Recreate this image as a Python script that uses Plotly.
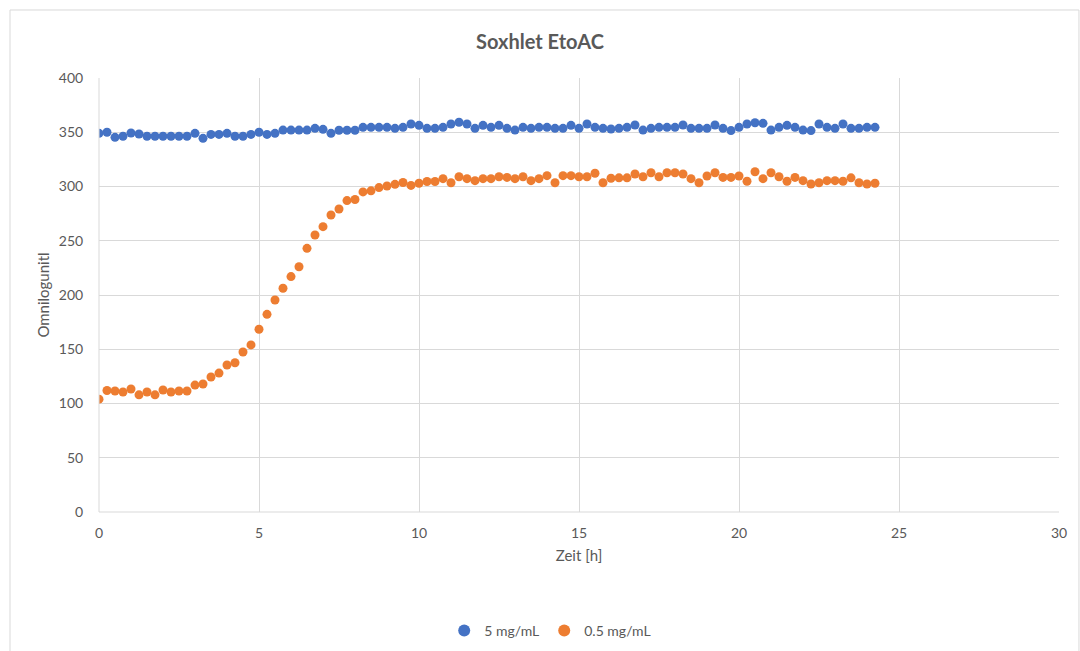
import plotly.graph_objects as go

time_h = [i * 0.25 for i in range(98)]

series_5 = [349, 350, 345.3, 346.3, 349.3, 348.4, 346.3, 346.3, 346.3, 346.3, 346.3, 346.3,
            349, 344.4, 348, 348, 349, 346.3, 346.3, 348, 350, 348, 349, 352, 352, 352, 352,
            353.6, 352.7, 349, 351.8, 351.8, 351.8,
            354.5, 354.5, 354.5, 354.5, 353.6, 354.5, 357.6, 356.4, 353.6, 353.6, 354.5, 357.6,
            359.2, 357.6, 353.6, 356.4, 354.5, 356.4, 353.6, 352, 354.5, 353.6, 354.5, 354.5,
            353.6, 353.6, 356.4, 353.6, 357.6, 354.5, 353.6, 353,
            353.6, 354.5, 356.7, 352, 353.6, 354.5, 354.5, 354.5, 356.7, 353.6, 353.6, 353.6,
            356.7, 353.6, 351.5, 354.5, 357.6, 358.8, 358.2, 352, 354.5, 356.4, 354.5, 352,
            351.5, 357.6, 354.5, 353.6, 357.6, 353.6, 353.6, 354.5, 354.5]

series_05 = [104, 112, 111.5, 110.6, 113.4, 108, 110.6, 108, 112.4, 110.6, 111.5, 111.5,
             117, 118, 124.4, 128, 135.5, 137.6, 147.5, 154, 168.4, 182.2, 195.4, 206.2,
             217, 226, 243, 255.3, 263, 273.7, 279.3, 287, 288, 295, 296, 299, 300.5, 302,
             303.7, 301, 303, 304.6, 304.6, 307.2, 303.5, 309, 307.2, 305.4, 307.2, 307.2,
             309, 308.4, 307.2, 309, 305.4, 307.2, 310, 303.5, 310, 310, 309, 309, 312.2,
             303.5, 307.6, 308, 308, 311.5, 309, 312.7, 309, 312.7, 312.7, 311.5, 307.2,
             303.5, 309.7, 312.7, 308.4, 308.4, 309.7, 304.8, 313.6, 307.2, 312.7, 309,
             304.8, 308.4, 305.4, 302.3, 303.5, 305.4, 305.4, 304.8, 308, 303.5, 302.3, 303]

names = ["5 mg/mL", "0.5 mg/mL"]
colors = ["#4472C4", "#ED7D31"]

fig = go.Figure()
for name, ys, c in zip(names, [series_5, series_05], colors):
    fig.add_trace(go.Scatter(x=time_h, y=ys, mode="markers", name=name,
                             marker=dict(color=c, size=9, line=dict(width=0))))

font_family = "Lato, 'Open Sans', sans-serif"
fig.update_layout(
    width=1080, height=651,
    margin=dict(l=99, r=21, t=78, b=139, autoexpand=False),
    paper_bgcolor="white", plot_bgcolor="white",
    font=dict(family=font_family, color="#595959", size=14),
    title=dict(text="<b>Soxhlet EtoAC</b>", x=0.5, xanchor="center", y=0.935, yanchor="middle",
               font=dict(size=20, color="#595959", family=font_family)),
    xaxis=dict(range=[0, 30], dtick=5, tick0=0, showgrid=True, gridcolor="#d9d9d9",
               gridwidth=1, zeroline=False, showline=False,
               ticks="outside", ticklen=8, tickcolor="rgba(0,0,0,0)",
               title=dict(text="Zeit [h]", font=dict(size=15, color="#595959"), standoff=10),
               tickfont=dict(size=14, color="#595959")),
    yaxis=dict(range=[0, 400], dtick=50, tick0=0, showgrid=True, gridcolor="#d9d9d9",
               gridwidth=1, zeroline=False, showline=False,
               ticks="outside", ticklen=12, tickcolor="rgba(0,0,0,0)",
               title=dict(text="Omnilogunitl", font=dict(size=15, color="#595959"), standoff=5),
               tickfont=dict(size=14, color="#595959")),
    legend=dict(orientation="h", x=0.47, xanchor="center", y=-0.274, yanchor="middle",
                font=dict(size=14, color="#595959"), itemsizing="constant"),
    showlegend=True,
    shapes=[dict(type="rect", xref="paper", yref="paper", x0=-0.0927, x1=1.0208,
                 y0=-0.40, y1=1.1567, line=dict(color="#d9d9d9", width=1), layer="below")],
)
fig.add_shape(type="line", xref="paper", yref="paper", x0=0, x1=0, y0=0, y1=1,
              line=dict(color="#d9d9d9", width=1))
fig.add_shape(type="line", xref="paper", yref="paper", x0=0, x1=1, y0=0, y1=0,
              line=dict(color="#d9d9d9", width=1))

fig.write_html("out.html")
